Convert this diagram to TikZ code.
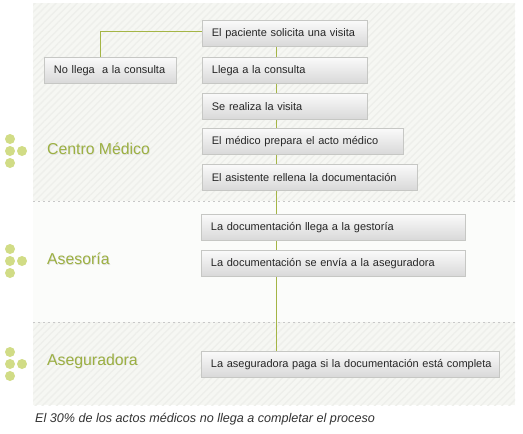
\documentclass[tikz,border=0pt]{standalone}
\usepackage{fontspec}
\setmainfont{Liberation Sans}
\usetikzlibrary{patterns.meta,calc}
\definecolor{linegreen}{HTML}{A4B545}
\definecolor{dotgreen}{HTML}{D1DC86}
\definecolor{labgreen}{HTML}{9CB042}
\definecolor{panelbg}{HTML}{F6F7F3}
\definecolor{hatch}{HTML}{EEEFEB}
\definecolor{boxdraw}{HTML}{C6C7C4}
\definecolor{dashgray}{HTML}{C8C8C8}
\tikzset{
  stepbox/.style={draw=boxdraw, line width=0.8pt, top color=white!60!gray!10, bottom color=gray!30!white,
    anchor=north west, minimum height=25.7pt, inner xsep=9.5pt, inner ysep=0pt, align=left,
    font=\fontsize{11}{13}\selectfont, text=black!85},
  conn/.style={draw=linegreen, line width=1pt},
  panel/.style={fill=panelbg},
  hatched/.style={pattern={Lines[angle=45,distance=5pt,line width=1.4pt]}, pattern color=hatch},
  seclabel/.style={anchor=west, inner sep=0pt, font=\fontsize{15.8}{18}\selectfont, text=labgreen},
  secshadow/.style={anchor=west, inner sep=0pt, font=\fontsize{15.8}{18}\selectfont, text=black!12},
  dot/.style={circle, fill=dotgreen, minimum size=10pt, inner sep=0pt},
  sep/.style={draw=dashgray, line width=1pt, dash pattern=on 2pt off 3pt}
}
\begin{document}
\begin{tikzpicture}[x=1pt,y=-1pt]
\useasboundingbox[fill=white] (0,0) rectangle (523,434);
% panels
\fill[panel] (33,3) rectangle (515,201);
\fill[hatched] (33,3) rectangle (515,201);
\fill[white!60!panelbg] (33,201) rectangle (515,322);
\fill[panel] (33,322) rectangle (515,405);
\fill[hatched] (33,322) rectangle (515,405);
\draw[sep] (33,201) -- (515,201);
\draw[sep] (33,322) -- (515,322);
% section labels
\node[secshadow] at (47.8,149.8) {Centro Médico};
\node[seclabel] (l1) at (47,149) {Centro Médico};
\node[secshadow] at (47.8,259.8) {Asesoría};
\node[seclabel] (l2) at (47,259) {Asesoría};
\node[secshadow] at (47.8,361.8) {Aseguradora};
\node[seclabel] (l3) at (47,361) {Aseguradora};
% dots
\foreach \n/\y in {a/151, b/261, c/364}{
  \node[dot] (\n1) at (10,\y-12) {};
  \node[dot] (\n2) at (10,\y) {};
  \node[dot] (\n3) at (22,\y) {};
  \node[dot] (\n4) at (10,\y+12) {};
}
% connector line x
\coordinate (xl) at (276,0);
% boxes
\node[stepbox, minimum width=165pt, text width=146pt] (b1) at (202,20) {\mbox{El paciente solicita una visita}};
\node[stepbox, minimum width=165pt, text width=146pt] (b2) at (202,57) {\mbox{Llega a la consulta}};
\node[stepbox, minimum width=165pt, text width=146pt] (b3) at (202,93) {\mbox{Se realiza la visita}};
\node[stepbox, minimum width=200.7pt, text width=181.7pt] (b4) at (202,128) {\mbox{El médico prepara el acto médico}};
\node[stepbox, minimum width=214.7pt, text width=195.7pt] (b5) at (202,164) {\mbox{El asistente rellena la documentación}};
\node[stepbox, minimum width=264pt, text width=245pt] (b6) at (201,214) {\mbox{La documentación llega a la gestoría}};
\node[stepbox, minimum width=264pt, text width=245pt] (b7) at (201,250) {\mbox{La documentación se envía a la aseguradora}};
\node[stepbox, minimum width=298pt, text width=279pt] (b8) at (201,351) {\mbox{La aseguradora paga si la documentación está completa}};
\node[stepbox, minimum width=132pt, text width=113pt] (n) at (44,57) {\mbox{No llega\ \ a la consulta}};
% connectors
\draw[conn] (b1.south -| xl) -- (b2.north -| xl);
\draw[conn] (b2.south -| xl) -- (b3.north -| xl);
\draw[conn] (b3.south -| xl) -- (b4.north -| xl);
\draw[conn] (b4.south -| xl) -- (b5.north -| xl);
\draw[conn] (b5.south -| xl) -- (b6.north -| xl);
\draw[conn] (b6.south -| xl) -- (b7.north -| xl);
\draw[conn] (b7.south -| xl) -- (b8.north -| xl);
\draw[conn] ([xshift=-10pt]n.north) |- ([yshift=1.3pt]b1.west);
% caption
\node[anchor=west, inner sep=0pt, font=\fontsize{12.6}{14}\selectfont\itshape, text=black!80] (cap) at (35,419) {El 30\% de los actos médicos no llega a completar el proceso};
\end{tikzpicture}
\end{document}
